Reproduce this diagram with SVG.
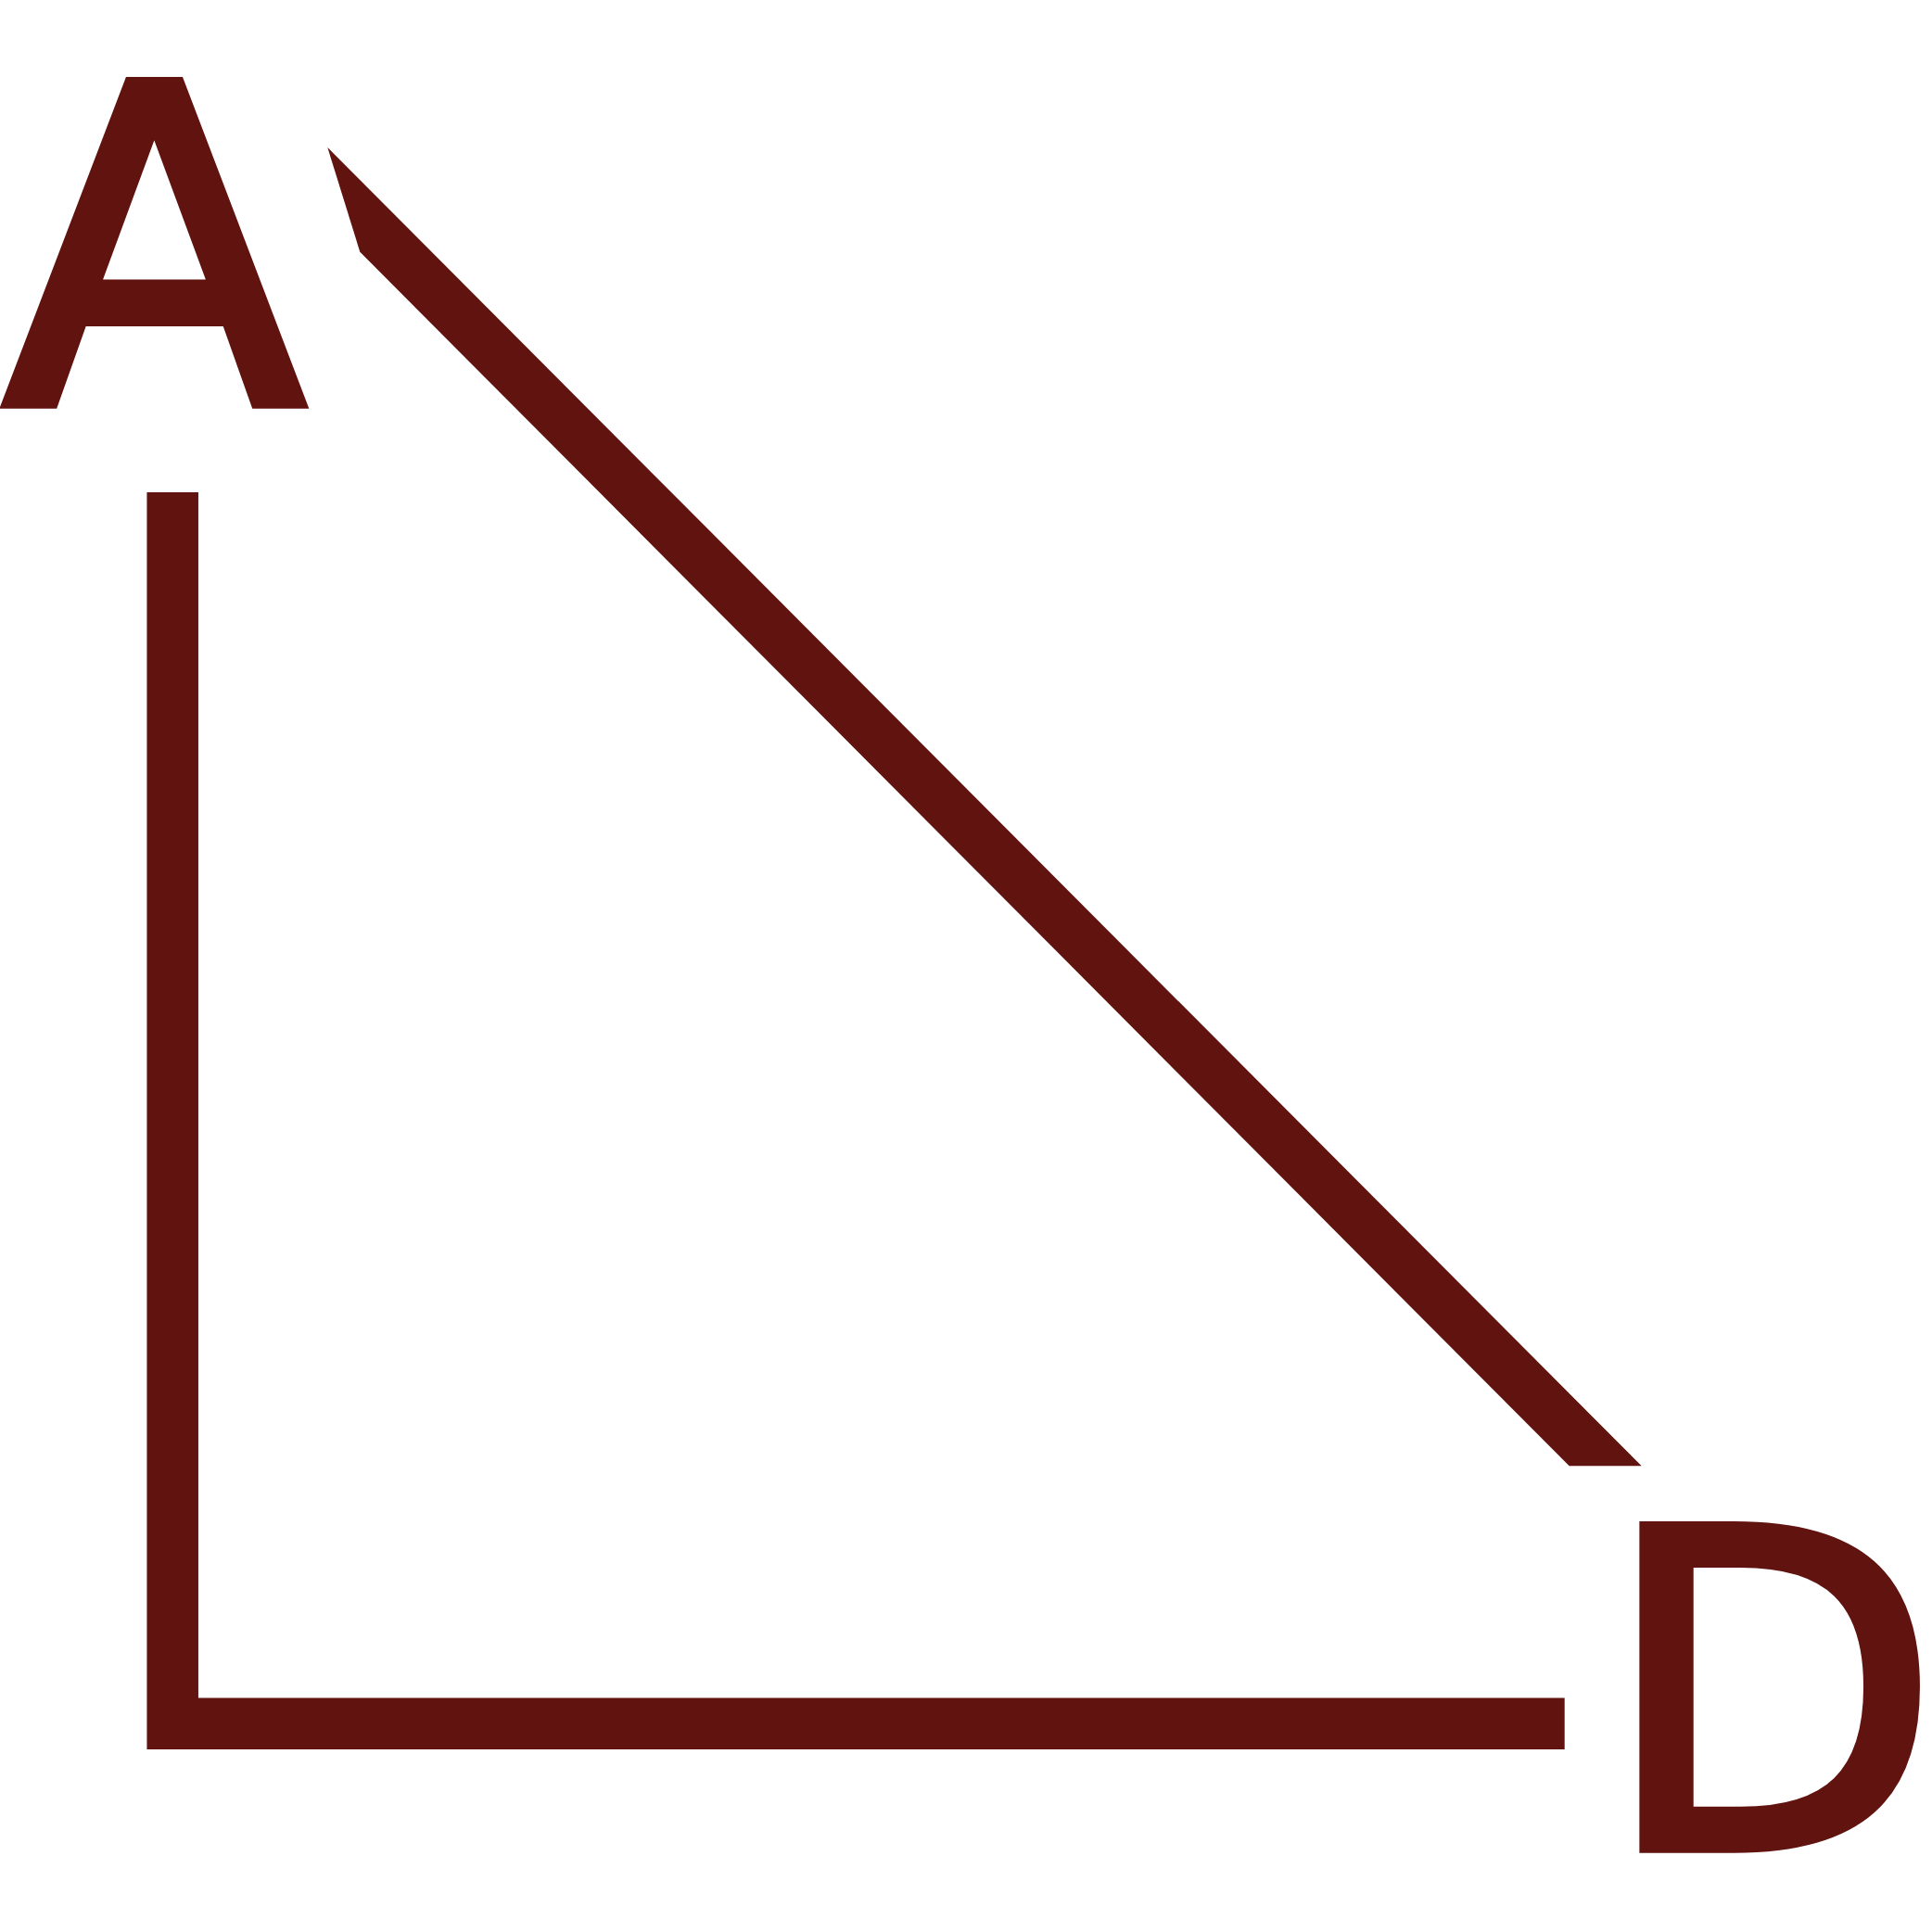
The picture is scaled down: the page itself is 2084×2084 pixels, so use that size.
<svg xmlns="http://www.w3.org/2000/svg" width="2084" height="2084" viewBox="0 0 2084 2084">
<style>
.lbl{font-family:"DejaVu Sans",sans-serif;font-size:475px;fill:#60130f;stroke:#60130f;stroke-width:11.5;stroke-linejoin:miter}
.edge{fill:none;stroke:#60130f;stroke-width:55.5;stroke-linecap:butt;stroke-linejoin:miter}
.edgefill{fill:#60130f;stroke:none}
</style>
<rect width="2084" height="2084" fill="#ffffff"/>
<g id="connectors">
<polyline class="edge" points="186.2,531 186.2,1859.3 1687.7,1859.3"/>
<polygon class="edgefill" points="353.3,159 1770.7,1581.3 1692.7,1581.3 388.3,271.7"/>
</g>
<g id="node-A">
<text class="lbl" x="4" y="435">A</text>
</g>
<g id="node-D">
<text class="lbl" x="1727.5" y="1993">D</text>
</g>
</svg>
